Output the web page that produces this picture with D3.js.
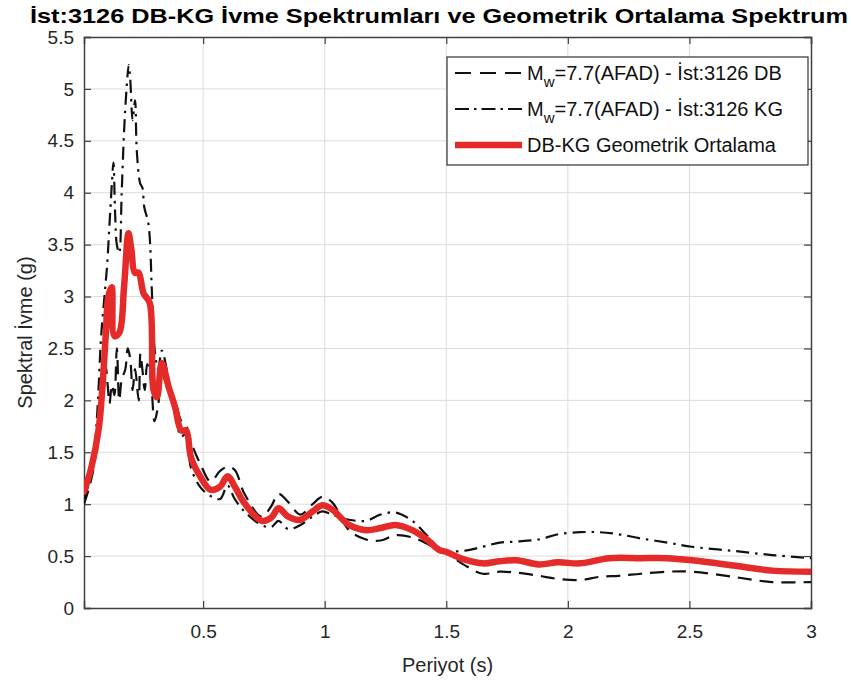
<!DOCTYPE html>
<html>
<head>
<meta charset="utf-8">
<script src="https://cdn.jsdelivr.net/npm/d3@7/dist/d3.min.js"></script>
<style>
  html, body { margin: 0; padding: 0; background: #fff; }
  svg { display: block; font-family: "Liberation Sans", Arial, Helvetica, sans-serif; }
</style>
</head>
<body>
<svg id="chart" width="851" height="688"></svg>
<script>
// Periods (s) and spectral accelerations (g)
const periodDB = [0.01, 0.03, 0.05, 0.065, 0.08, 0.09, 0.1, 0.108, 0.115, 0.125, 0.135, 0.145, 0.155, 0.165, 0.18, 0.19, 0.2, 0.21, 0.22, 0.235, 0.242, 0.25, 0.26, 0.27, 0.285, 0.3, 0.315, 0.33, 0.358, 0.384, 0.41, 0.43, 0.45, 0.49, 0.53, 0.57, 0.6, 0.63, 0.67, 0.74, 0.78, 0.81, 0.85, 0.9, 0.95, 0.99, 1.03, 1.1, 1.17, 1.23, 1.29, 1.36, 1.42, 1.47, 1.5, 1.57, 1.65, 1.72, 1.79, 1.88, 1.96, 2.05, 2.13, 2.21, 2.3, 2.41, 2.51, 2.68, 2.84, 3.0];
const saDB = [1.0, 1.15, 1.35, 1.6, 1.85, 2.1, 2.32, 2.13, 1.97, 2.15, 2.05, 2.5, 2.0, 2.2, 2.3, 2.5, 2.4, 2.1, 2.3, 2.0, 2.45, 2.3, 2.1, 2.35, 2.2, 1.8, 1.95, 2.25, 2.1, 2.0, 1.8, 1.76, 1.6, 1.38, 1.22, 1.32, 1.36, 1.33, 1.1, 0.88, 0.98, 1.1, 1.02, 0.9, 1.0, 1.07, 1.02, 0.75, 0.66, 0.65, 0.7, 0.68, 0.62, 0.55, 0.53, 0.42, 0.33, 0.35, 0.34, 0.31, 0.28, 0.27, 0.3, 0.31, 0.33, 0.35, 0.35, 0.3, 0.25, 0.25];

const periodKG = [0.01, 0.03, 0.05, 0.065, 0.08, 0.093, 0.105, 0.115, 0.125, 0.131, 0.138, 0.145, 0.155, 0.165, 0.175, 0.185, 0.194, 0.2, 0.21, 0.22, 0.227, 0.241, 0.25, 0.258, 0.275, 0.29, 0.3, 0.315, 0.33, 0.358, 0.384, 0.41, 0.43, 0.45, 0.49, 0.53, 0.57, 0.6, 0.63, 0.67, 0.74, 0.78, 0.81, 0.85, 0.9, 0.95, 0.99, 1.03, 1.1, 1.17, 1.23, 1.29, 1.36, 1.42, 1.47, 1.5, 1.57, 1.65, 1.72, 1.79, 1.88, 1.96, 2.05, 2.13, 2.21, 2.3, 2.41, 2.51, 2.68, 2.84, 3.0];
const saKG = [1.05, 1.2, 1.45, 1.9, 2.6, 2.97, 3.3, 3.7, 4.1, 4.29, 3.8, 3.5, 3.42, 4.0, 4.6, 5.0, 5.23, 5.1, 4.7, 4.89, 4.41, 4.09, 4.05, 3.86, 3.7, 3.0, 2.5, 2.3, 2.48, 2.2, 1.88, 1.65, 1.68, 1.35, 1.16, 1.08, 1.05, 1.18, 1.05, 0.93, 0.8, 0.78, 0.84, 0.76, 0.8, 0.88, 0.93, 0.9, 0.85, 0.84, 0.9, 0.92, 0.84, 0.7, 0.58, 0.55, 0.55, 0.59, 0.63, 0.64, 0.66, 0.71, 0.73, 0.73, 0.71, 0.67, 0.63, 0.59, 0.55, 0.51, 0.48];

const periodGM = [0.01, 0.04, 0.07, 0.085, 0.1, 0.11, 0.124, 0.135, 0.155, 0.175, 0.193, 0.205, 0.219, 0.234, 0.255, 0.28, 0.296, 0.31, 0.33, 0.358, 0.384, 0.41, 0.43, 0.45, 0.49, 0.53, 0.57, 0.6, 0.63, 0.67, 0.74, 0.78, 0.81, 0.85, 0.9, 0.95, 0.99, 1.03, 1.1, 1.17, 1.23, 1.29, 1.36, 1.42, 1.47, 1.5, 1.57, 1.65, 1.72, 1.79, 1.88, 1.96, 2.05, 2.17, 2.3, 2.41, 2.51, 2.68, 2.84, 3.0];
const saGM = [1.12, 1.35, 1.72, 2.1, 2.65, 3.0, 3.09, 2.62, 2.65, 3.1, 3.61, 3.45, 3.23, 3.23, 3.03, 2.94, 2.1, 2.03, 2.36, 2.13, 1.94, 1.71, 1.71, 1.45, 1.26, 1.14, 1.17, 1.27, 1.17, 1.01, 0.84, 0.87, 0.96, 0.88, 0.85, 0.93, 0.99, 0.95, 0.8, 0.75, 0.77, 0.8, 0.75, 0.66, 0.56, 0.54, 0.47, 0.43, 0.45, 0.46, 0.42, 0.44, 0.43, 0.48, 0.48, 0.48, 0.46, 0.41, 0.36, 0.35];

const xTicks = [0.5, 1, 1.5, 2, 2.5, 3];
const yTicks = [0, 0.5, 1, 1.5, 2, 2.5, 3, 3.5, 4, 4.5, 5, 5.5];

const titleText = "İst:3126 DB-KG İvme Spektrumları ve Geometrik Ortalama Spektrum";
const xLabel = "Periyot (s)";
const yLabel = "Spektral İvme (g)";
const legendLabels = [
  { sub: true, rest: "=7.7(AFAD) - İst:3126 DB" },
  { sub: true, rest: "=7.7(AFAD) - İst:3126 KG" },
  { sub: false, rest: "DB-KG Geometrik Ortalama" }
];

(function draw() {
  const svg = d3.select("#chart");
  const pl = 84, pr = 811, pt = 37, pb = 608;
  const x = d3.scaleLinear().domain([0.01, 3]).range([pl, pr]);
  const y = d3.scaleLinear().domain([0, 5.5]).range([pb, pt]);

  const textColor = "#262626";
  const gridColor = "#dcdcdc";
  const axisColor = "#404040";

  // Grid
  svg.append("g").selectAll("line").data(xTicks.filter(t => t < 3)).join("line")
    .attr("x1", d => x(d)).attr("x2", d => x(d)).attr("y1", pt).attr("y2", pb)
    .attr("stroke", gridColor).attr("stroke-width", 1);
  svg.append("g").selectAll("line").data(yTicks.filter(t => t > 0 && t < 5.5)).join("line")
    .attr("x1", pl).attr("x2", pr).attr("y1", d => y(d)).attr("y2", d => y(d))
    .attr("stroke", gridColor).attr("stroke-width", 1);

  // Axes with inward ticks, boxed on all sides
  const xAxisB = d3.axisBottom(x).tickValues(xTicks).tickSize(-7).tickPadding(17).tickFormat(d3.format("~g"));
  const xAxisT = d3.axisTop(x).tickValues(xTicks).tickSize(-7).tickFormat("");
  const yAxisL = d3.axisLeft(y).tickValues(yTicks).tickSize(-7).tickPadding(10).tickFormat(d3.format("~g"));
  const yAxisR = d3.axisRight(y).tickValues(yTicks).tickSize(-7).tickFormat("");

  function styleAxis(g) {
    g.selectAll("path").attr("stroke", axisColor).attr("stroke-width", 1.5);
    g.selectAll("line").attr("stroke", axisColor).attr("stroke-width", 1.2);
    g.selectAll("text").attr("fill", textColor).attr("font-size", 19)
      .attr("font-family", "'Liberation Sans', Arial, sans-serif");
  }
  svg.append("g").attr("transform", `translate(0,${pb})`).call(xAxisB).call(styleAxis);
  svg.append("g").attr("transform", `translate(0,${pt})`).call(xAxisT).call(styleAxis);
  svg.append("g").attr("transform", `translate(${pl},0)`).call(yAxisL).call(styleAxis);
  svg.append("g").attr("transform", `translate(${pr},0)`).call(yAxisR).call(styleAxis);

  // Curves
  svg.append("clipPath").attr("id", "plotclip").append("rect")
    .attr("x", pl).attr("y", pt).attr("width", pr - pl).attr("height", pb - pt);

  const line = d3.line().x(d => x(d[0])).y(d => y(d[1])).curve(d3.curveCatmullRom.alpha(0.5));
  const zip = (a, b) => a.map((t, i) => [t, b[i]]);

  const plot = svg.append("g").attr("clip-path", "url(#plotclip)");
  plot.append("path").datum(zip(periodDB, saDB)).attr("d", line)
    .attr("fill", "none").attr("stroke", "#111").attr("stroke-width", 2.2)
    .attr("stroke-dasharray", "14,8");
  plot.append("path").datum(zip(periodKG, saKG)).attr("d", line)
    .attr("fill", "none").attr("stroke", "#111").attr("stroke-width", 2.2)
    .attr("stroke-dasharray", "13,6,2.5,6");
  plot.append("path").datum(zip(periodGM, saGM)).attr("d", line)
    .attr("fill", "none").attr("stroke", "#e52a2a").attr("stroke-width", 6.5)
    .attr("stroke-linejoin", "round").attr("stroke-linecap", "round");

  // Title and axis labels
  svg.append("text").attr("x", 30).attr("y", 23).text(titleText)
    .attr("font-size", 20).attr("font-weight", "bold").attr("fill", "#000")
    .attr("textLength", 818).attr("lengthAdjust", "spacingAndGlyphs");
  svg.append("text").attr("x", (pl + pr) / 2).attr("y", 672).attr("text-anchor", "middle")
    .attr("font-size", 20).attr("fill", textColor).text(xLabel);
  svg.append("text").attr("transform", `translate(32,${(pt + pb) / 2 + 10}) rotate(-90)`)
    .attr("text-anchor", "middle").attr("font-size", 20).attr("fill", textColor).text(yLabel);

  // Legend
  const lg = svg.append("g");
  lg.append("rect").attr("x", 447).attr("y", 57).attr("width", 361).attr("height", 108)
    .attr("fill", "#fff").attr("stroke", "#333").attr("stroke-width", 1.2);
  const rowY = [73, 109, 145];
  const sampleStyles = [
    { stroke: "#111", w: 2.2, dash: "16,9" },
    { stroke: "#111", w: 2.2, dash: "14,5,2.5,5" },
    { stroke: "#e52a2a", w: 6.5, dash: null }
  ];
  legendLabels.forEach((lab, i) => {
    const s = sampleStyles[i];
    lg.append("line").attr("x1", 455).attr("x2", 522).attr("y1", rowY[i]).attr("y2", rowY[i])
      .attr("stroke", s.stroke).attr("stroke-width", s.w)
      .attr("stroke-dasharray", s.dash);
    const t = lg.append("text").attr("x", 527).attr("y", rowY[i] + 7)
      .attr("font-size", 20).attr("fill", "#111");
    if (lab.sub) {
      t.append("tspan").text("M");
      t.append("tspan").attr("dy", 7).attr("font-size", 15).text("w");
      t.append("tspan").attr("dy", -7).text(lab.rest);
    } else {
      t.text(lab.rest);
    }
  });
})();
</script>
</body>
</html>
